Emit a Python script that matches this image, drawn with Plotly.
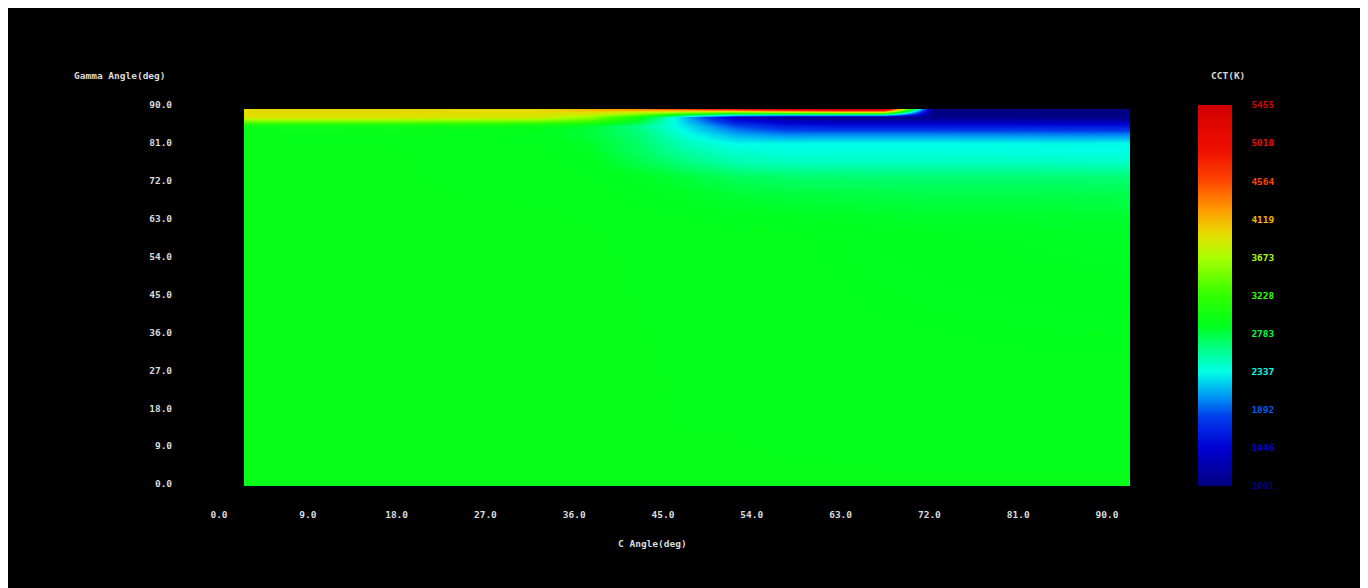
import numpy as np
import plotly.graph_objects as go
import plotly.colors as pc

# ---------------- data ----------------
c_angles = [0, 15, 30, 35, 40, 45, 50, 55, 60, 65, 70, 80, 90]
gamma_angles = [0, 30, 60, 65, 70, 74, 77, 80, 82, 84, 86, 88, 90]

cct_g0 = [2920, 2920, 2920, 2920, 2920, 2920, 2920, 2920, 2920, 2920, 2920, 2920, 2920]
cct_g30 = [2920, 2920, 2920, 2920, 2920, 2915, 2915, 2910, 2910, 2905, 2905, 2900, 2900]
cct_g60 = [2920, 2920, 2920, 2920, 2915, 2910, 2905, 2900, 2890, 2880, 2870, 2860, 2850]
cct_g65 = [2920, 2920, 2920, 2915, 2905, 2890, 2870, 2860, 2850, 2840, 2830, 2830, 2820]
cct_g70 = [2920, 2920, 2915, 2905, 2880, 2850, 2810, 2790, 2780, 2770, 2760, 2760, 2750]
cct_g74 = [2920, 2920, 2910, 2895, 2860, 2790, 2710, 2670, 2660, 2650, 2650, 2650, 2640]
cct_g77 = [2920, 2920, 2905, 2880, 2770, 2630, 2500, 2460, 2450, 2450, 2450, 2450, 2440]
cct_g80 = [2920, 2920, 2900, 2860, 2700, 2520, 2400, 2360, 2360, 2360, 2360, 2350, 2340]
cct_g82 = [2920, 2915, 2895, 2840, 2680, 2450, 2320, 2320, 2330, 2330, 2330, 2320, 2320]
cct_g84 = [2920, 2910, 2880, 2800, 2650, 2350, 2100, 2000, 2000, 2000, 2000, 1990, 1980]
cct_g86 = [2950, 2950, 2910, 2820, 2600, 2250, 1850, 1650, 1600, 1600, 1600, 1590, 1580]
cct_g88 = [3900, 3900, 3850, 3600, 3000, 2100, 1350, 1100, 1050, 1050, 1050, 1040, 1030]
cct_g90 = [3960, 3960, 3970, 4150, 4300, 4500, 4800, 5200, 5455, 5455, 1001, 1001, 1010]

axis_ticks = [0, 9, 18, 27, 36, 45, 54, 63, 72, 81, 90]

x_title = "C Angle(deg)"
y_title = "Gamma Angle(deg)"
cb_title = "CCT(K)"

# ---------------- styling ----------------
colorscale = [
    [0.00, "rgb(0,0,128)"],
    [0.10, "rgb(0,0,210)"],
    [0.18, "rgb(0,60,235)"],
    [0.24, "rgb(0,160,245)"],
    [0.30, "rgb(0,255,230)"],
    [0.35, "rgb(0,255,150)"],
    [0.42, "rgb(0,255,30)"],
    [0.50, "rgb(50,255,0)"],
    [0.60, "rgb(170,255,0)"],
    [0.66, "rgb(230,220,0)"],
    [0.72, "rgb(255,160,0)"],
    [0.80, "rgb(255,70,0)"],
    [0.88, "rgb(240,15,0)"],
    [1.00, "rgb(210,0,0)"],
]

FONT = "DejaVu Sans Mono"
FS = 9.5
TXT = "#dcdcdc"

W, H = 1360, 580
OX, OY = 8, 8


def fx(sx):
    return (sx - OX) / W


def fy(sy):
    return 1 - (sy - OY) / H


z = np.array([cct_g0, cct_g30, cct_g60, cct_g65, cct_g70, cct_g74, cct_g77,
              cct_g80, cct_g82, cct_g84, cct_g86, cct_g88, cct_g90], dtype=float)
zmin, zmax = float(z.min()), float(z.max())
cb_vals = np.linspace(zmin, zmax, 11)
cb_cols = pc.sample_colorscale(colorscale, [(v - zmin) / (zmax - zmin) for v in cb_vals])
cb_text = [f'<span style="color:{c}">{v:.0f}</span>' for v, c in zip(cb_vals, cb_cols)]

fig = go.Figure()
fig.add_trace(go.Heatmap(
    x=c_angles, y=gamma_angles, z=z, zmin=zmin, zmax=zmax,
    colorscale=colorscale, zsmooth="best", hoverinfo="skip",
    colorbar=dict(
        thickness=34, thicknessmode="pixels",
        len=381, lenmode="pixels",
        x=fx(1198), xanchor="left", xpad=0,
        y=fy(488), yanchor="bottom", ypad=0,
        outlinewidth=0,
        tickmode="array", tickvals=cb_vals, ticktext=cb_text,
        ticks="outside", ticklen=18, tickcolor="rgba(0,0,0,0)",
        tickfont=dict(family=FONT, size=FS, weight="bold"),
    ),
))
# empty trace that carries the labelled tick scales
fig.add_trace(go.Scatter(x=[], y=[], xaxis="x2", yaxis="y2",
                         showlegend=False, hoverinfo="skip"))

# tick-label scales (placed where the reference draws its labels)
px_per_x = (1107 - 219) / 90.0
px_per_y = (486 - 103) / 90.0

fig.update_layout(
    width=W, height=H,
    margin=dict(l=0, r=0, t=0, b=0),
    paper_bgcolor="black", plot_bgcolor="rgba(0,0,0,0)",
    showlegend=False,
    xaxis=dict(domain=[fx(244), fx(1130)], range=[0, 90], visible=False, anchor="y"),
    yaxis=dict(domain=[fy(488), fy(107)], range=[0, 90], visible=False, anchor="x"),
    xaxis2=dict(
        domain=[fx(200), fx(1130)],
        range=[(200 - 219) / px_per_x, (1130 - 219) / px_per_x],
        anchor="y2", showgrid=False, zeroline=False, showline=False,
        tickmode="array", tickvals=axis_ticks,
        ticktext=[f"{t:.1f}" for t in axis_ticks],
        ticks="outside", ticklen=20, tickcolor="rgba(0,0,0,0)",
        tickfont=dict(family=FONT, size=FS, color=TXT, weight="bold"),
    ),
    yaxis2=dict(
        domain=[fy(488), fy(100)],
        range=[(486 - 488) / px_per_y, (486 - 100) / px_per_y],
        anchor="x2", showgrid=False, zeroline=False, showline=False,
        tickmode="array", tickvals=axis_ticks,
        ticktext=[f"{t:.1f}" for t in axis_ticks],
        ticks="outside", ticklen=25, tickcolor="rgba(0,0,0,0)",
        tickfont=dict(family=FONT, size=FS, color=TXT, weight="bold"),
    ),
    annotations=[
        dict(text=y_title, xref="paper", yref="paper", x=fx(72), y=fy(73),
             xanchor="left", yanchor="middle", showarrow=False,
             font=dict(family=FONT, size=FS, color=TXT, weight="bold")),
        dict(text=x_title, xref="paper", yref="paper", x=fx(652), y=fy(546),
             xanchor="center", yanchor="middle", showarrow=False,
             font=dict(family=FONT, size=FS, color=TXT, weight="bold")),
        dict(text=cb_title, xref="paper", yref="paper", x=fx(1228), y=fy(73),
             xanchor="center", yanchor="middle", showarrow=False,
             font=dict(family=FONT, size=FS, color=TXT, weight="bold")),
    ],
)

fig.write_html("out.html")
